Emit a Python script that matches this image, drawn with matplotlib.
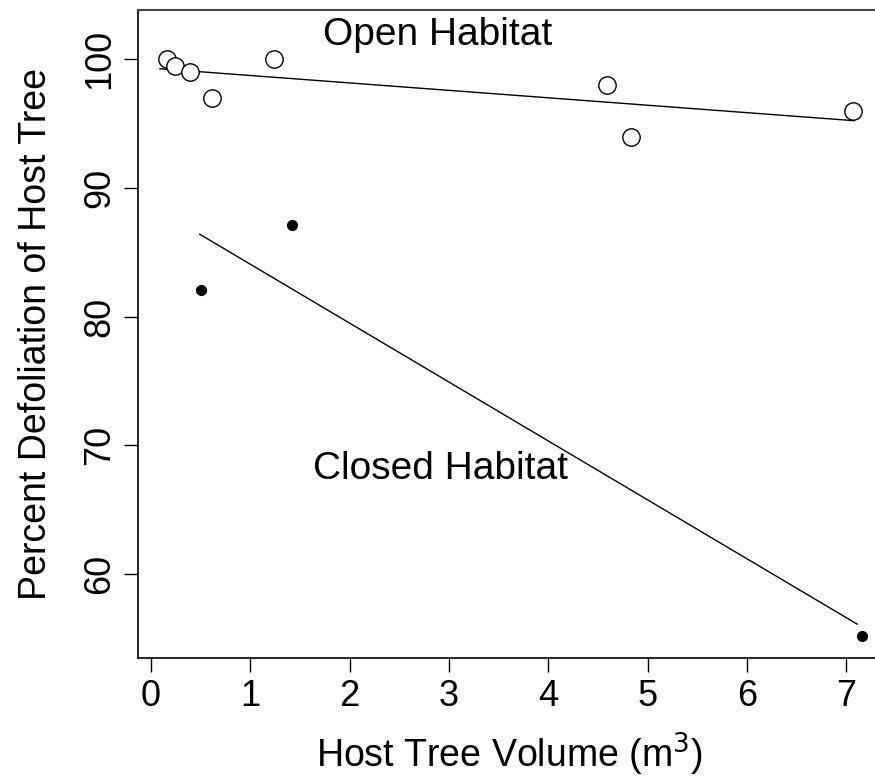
import numpy as np
import matplotlib
matplotlib.use('Agg')
import matplotlib.pyplot as plt

plt.rcParams['font.family'] = ['Liberation Sans', 'DejaVu Sans']

# open habitat trees
open_vol = [0.16, 0.24, 0.39, 0.61, 1.24, 4.59, 4.83, 7.07]
open_defol = [100, 99.5, 99.0, 97.0, 100, 98.0, 94.0, 96.0]
open_fit_range = [0.09, 7.08]

# closed habitat trees
closed_vol = [0.50, 1.42, 7.16]
closed_defol = [82.1, 87.1, 55.2]
closed_fit_range = [0.49, 7.11]

xticks = [0, 1, 2, 3, 4, 5, 6, 7]
yticks = [60, 70, 80, 90, 100]

W, H = 875, 782
fig = plt.figure(figsize=(W / 100, H / 100), dpi=100)
left, right, top, bottom = 138, 880, 10, 658
ax = fig.add_axes([left / W, 1 - bottom / H, (right - left) / W, (bottom - top) / H])

# regression lines
for xs, ys, rng in [(open_vol, open_defol, open_fit_range),
                    (closed_vol, closed_defol, closed_fit_range)]:
    slope, icpt = np.polyfit(xs, ys, 1)
    lx = np.array(rng)
    ax.plot(lx, icpt + slope * lx, color='black', lw=1.0)

ax.scatter(open_vol, open_defol, s=12.5**2, facecolors='white', edgecolors='black',
           linewidths=1.0, zorder=3)
ax.scatter(closed_vol, closed_defol, s=7**2, color='black', zorder=3)

ax.text(2.89, 101.9, 'Open Habitat', fontsize=28, ha='center', va='center')
ax.text(2.91, 68.2, 'Closed Habitat', fontsize=28, ha='center', va='center')

ax.set_xlim(-0.131, 7.34)
ax.set_ylim(53.48, 103.83)
ax.set_xticks(xticks)
ax.set_yticks(yticks)
ax.set_yticklabels([str(v) for v in yticks], rotation=90, va='center')
ax.tick_params(direction='out', length=10, width=1, labelsize=26, pad=5)

for side in ['left', 'bottom']:
    ax.spines[side].set_linewidth(1.2)
ax.spines['top'].set_linewidth(1.5)
ax.spines['top'].set_color('#444444')
ax.spines['right'].set_visible(False)

ax.set_xlabel('Host Tree Volume (m$^3$)', fontsize=27, labelpad=12)
ax.set_ylabel('Percent Defoliation of Host Tree', fontsize=27, labelpad=20)

fig.savefig('out.png', dpi=100)
